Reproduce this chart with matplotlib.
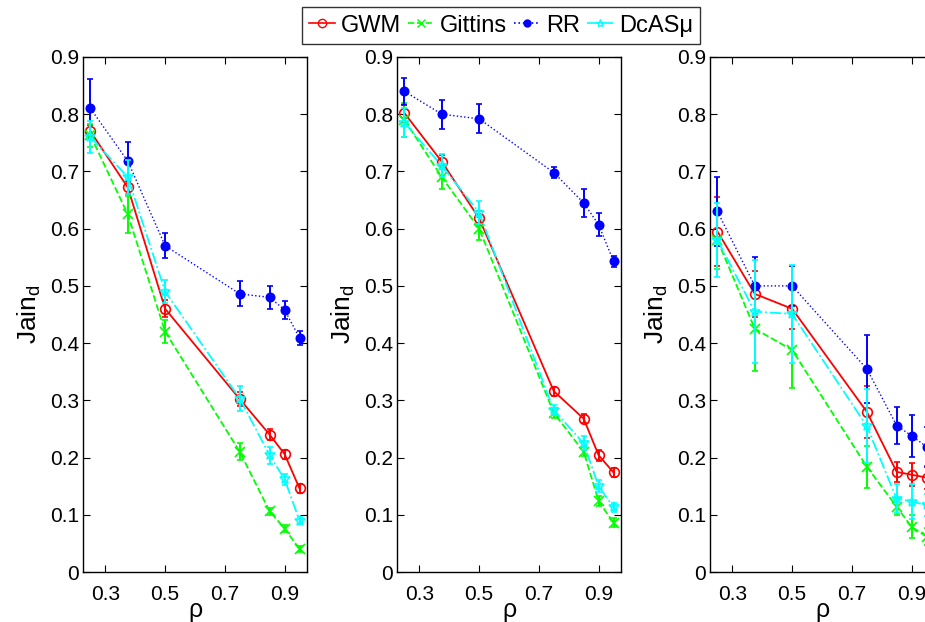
import numpy as np
import matplotlib
matplotlib.use('Agg')
import matplotlib.pyplot as plt
from matplotlib.lines import Line2D

plt.rcParams['font.family'] = ['Liberation Sans', 'DejaVu Sans']
plt.rcParams['mathtext.default'] = 'regular'

# --- data ---
rho = [0.25, 0.375, 0.5, 0.75, 0.85, 0.9, 0.95]
series_names = ['GWM', 'Gittins', 'RR', 'DcAS\u03bc']

# panel 1
gwm_1 = [0.770, 0.672, 0.460, 0.302, 0.240, 0.206, 0.146]
gwm_1_err = [0.012, 0.012, 0.015, 0.012, 0.010, 0.008, 0.008]
git_1 = [0.763, 0.625, 0.420, 0.210, 0.106, 0.076, 0.040]
git_1_err = [0.020, 0.032, 0.020, 0.015, 0.006, 0.006, 0.005]
rr_1 = [0.810, 0.718, 0.570, 0.486, 0.480, 0.458, 0.409]
rr_1_err = [0.052, 0.034, 0.022, 0.022, 0.020, 0.015, 0.012]
dca_1 = [0.760, 0.690, 0.490, 0.303, 0.204, 0.162, 0.090]
dca_1_err = [0.028, 0.030, 0.020, 0.022, 0.015, 0.010, 0.006]

# panel 2
gwm_2 = [0.802, 0.717, 0.618, 0.316, 0.268, 0.204, 0.174]
gwm_2_err = [0.015, 0.012, 0.012, 0.008, 0.008, 0.010, 0.008]
git_2 = [0.790, 0.690, 0.600, 0.278, 0.210, 0.124, 0.086]
git_2_err = [0.030, 0.020, 0.020, 0.008, 0.008, 0.008, 0.008]
rr_2 = [0.840, 0.800, 0.792, 0.698, 0.645, 0.607, 0.543]
rr_2_err = [0.024, 0.025, 0.025, 0.010, 0.025, 0.020, 0.010]
dca_2 = [0.785, 0.710, 0.628, 0.283, 0.225, 0.150, 0.113]
dca_2_err = [0.025, 0.020, 0.020, 0.008, 0.012, 0.010, 0.008]

# panel 3
gwm_3 = [0.595, 0.486, 0.460, 0.280, 0.175, 0.170, 0.165]
gwm_3_err = [0.060, 0.040, 0.035, 0.045, 0.018, 0.020, 0.020]
git_3 = [0.580, 0.425, 0.388, 0.184, 0.114, 0.079, 0.062]
git_3_err = [0.050, 0.073, 0.066, 0.037, 0.015, 0.020, 0.015]
rr_3 = [0.630, 0.500, 0.500, 0.355, 0.256, 0.238, 0.219]
rr_3_err = [0.060, 0.050, 0.035, 0.060, 0.033, 0.037, 0.035]
dca_3 = [0.580, 0.455, 0.451, 0.255, 0.128, 0.123, 0.117]
dca_3_err = [0.065, 0.090, 0.085, 0.065, 0.025, 0.030, 0.020]

panels = [
    (gwm_1, gwm_1_err, git_1, git_1_err, rr_1, rr_1_err, dca_1, dca_1_err),
    (gwm_2, gwm_2_err, git_2, git_2_err, rr_2, rr_2_err, dca_2, dca_2_err),
    (gwm_3, gwm_3_err, git_3, git_3_err, rr_3, rr_3_err, dca_3, dca_3_err),
]

xticks = [0.3, 0.5, 0.7, 0.9]
xtick_labels = ['0.3', '0.5', '0.7', '0.9']
yticks = [0, 0.1, 0.2, 0.3, 0.4, 0.5, 0.6, 0.7, 0.8, 0.9]
ytick_labels = ['0', '0.1', '0.2', '0.3', '0.4', '0.5', '0.6', '0.7', '0.8', '0.9']

# style per series: color, linestyle, line width, marker, markersize, filled
styles = [
    ('#ff0000', '-', 1.3, 'o', 7, False),
    ('#00ff00', '--', 1.3, 'x', 7, False),
    ('#0000ff', ':', 1.0, 'o', 6, True),
    ('#00ffff', '-.', 1.3, '*', 7, False),
]

fig = plt.figure(figsize=(9.25, 6.22), dpi=100)
lefts = [83, 397, 710]
for k, data in enumerate(panels):
    ax = fig.add_axes([lefts[k] / 925, 50 / 622, 224 / 925, 515 / 622])
    for s in range(4):
        col, ls, lw, mk, ms, filled = styles[s]
        y = data[2 * s]
        e = data[2 * s + 1]
        ax.errorbar(rho, y, yerr=e, color=col, linestyle=ls, lw=lw,
                    marker=mk, markersize=ms,
                    markerfacecolor=col if filled else 'none',
                    markeredgecolor=col, markeredgewidth=1.2,
                    elinewidth=1.4, capsize=2.5, capthick=1.2,
                    zorder=3 + s)
    ax.set_xlim(0.225, 0.975)
    ax.set_ylim(0, 0.9)
    ax.set_xticks(xticks)
    ax.set_xticklabels(xtick_labels)
    ax.set_yticks(yticks)
    ax.set_yticklabels(ytick_labels)
    ax.tick_params(direction='in', top=True, right=True, labelsize=15,
                   length=5, width=0.8)
    ax.tick_params(axis='y', pad=3)
    ax.tick_params(axis='x', pad=9)
    for sp in ax.spines.values():
        sp.set_linewidth(1.0)
    ax.set_xlabel('\u03c1', fontsize=18)
    ax.xaxis.label.set_va('center')
    ax.xaxis.set_label_coords(0.5, -0.073)
    ax.set_ylabel('Jain$_d$', fontsize=19)
    ax.yaxis.set_label_coords(-0.18, 0.5)

handles = []
for s in range(4):
    col, ls, lw, mk, ms, filled = styles[s]
    handles.append(Line2D([], [], color=col, linestyle=ls, lw=1.2, marker=mk,
                          markersize=ms - 1,
                          markerfacecolor=col if filled else 'none',
                          markeredgecolor=col))
leg = fig.legend(handles, series_names, loc='upper center',
                 bbox_to_anchor=(501 / 925, 0.988), ncol=4, fontsize=17,
                 frameon=True, fancybox=False, edgecolor='black',
                 handlelength=1.1, handletextpad=0.25, columnspacing=0.3,
                 borderpad=0.3, borderaxespad=0)
leg.get_frame().set_linewidth(1.0)

fig.savefig('out.png', dpi=100)
